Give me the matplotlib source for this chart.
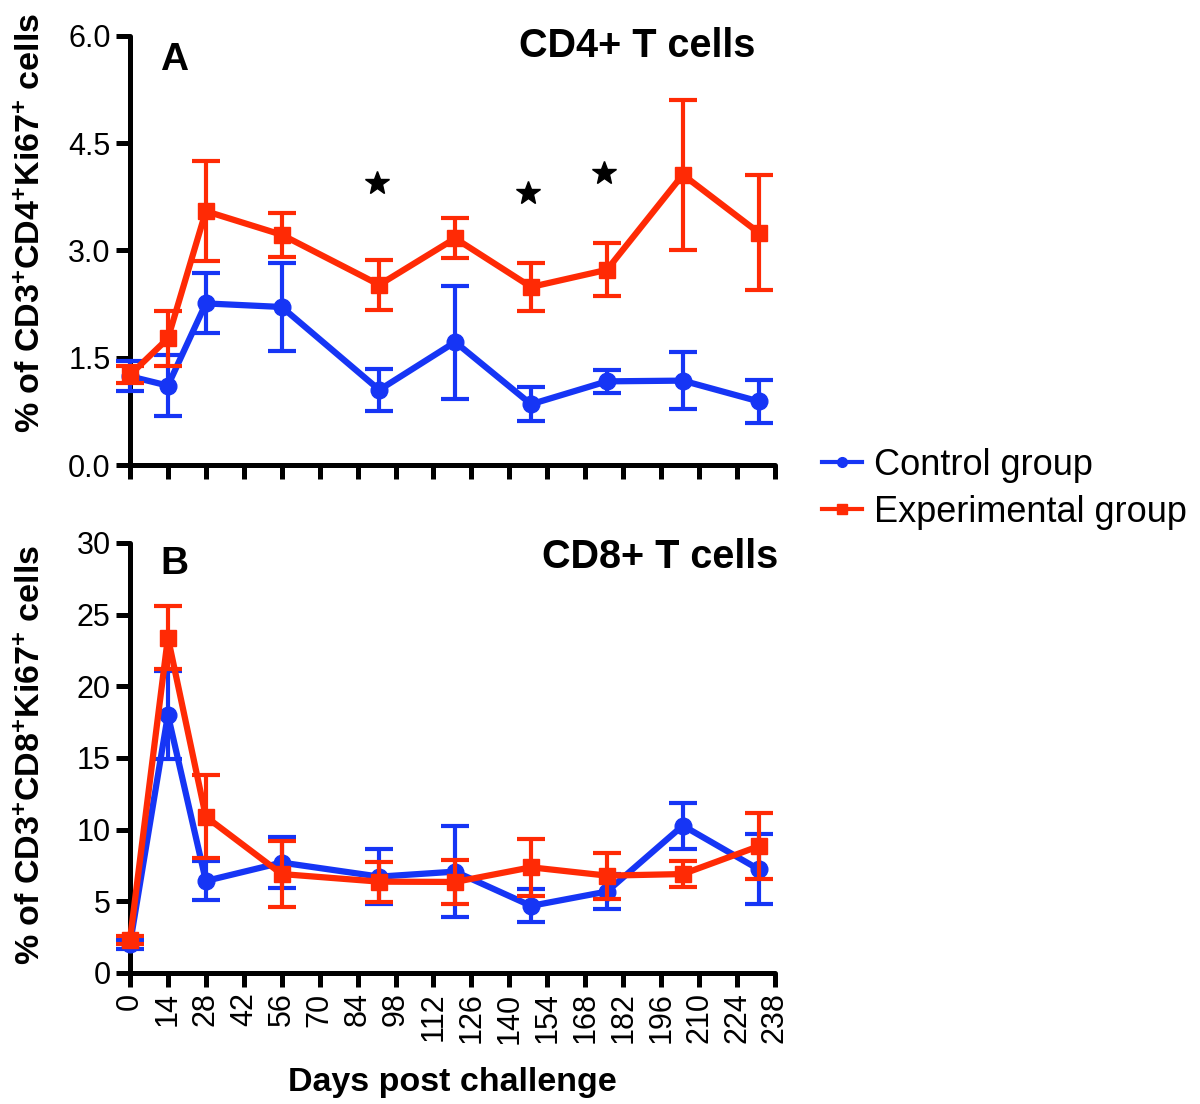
import matplotlib
matplotlib.use("Agg")
import matplotlib.pyplot as plt
from matplotlib.lines import Line2D

plt.rcParams['font.family'] = ['Liberation Sans', 'DejaVu Sans']
plt.rcParams['mathtext.fontset'] = 'custom'
plt.rcParams['mathtext.rm'] = 'Liberation Sans:bold'
plt.rcParams['mathtext.default'] = 'rm'

# data
days = [0, 14, 28, 56, 92, 120, 148, 176, 204, 232]
xticks = list(range(0, 239, 14))

cd4_ctrl = [1.24, 1.11, 2.26, 2.21, 1.05, 1.72, 0.85, 1.17, 1.18, 0.89]
cd4_ctrl_err = [0.21, 0.43, 0.42, 0.62, 0.29, 0.79, 0.24, 0.16, 0.40, 0.30]
cd4_exp = [1.26, 1.77, 3.55, 3.22, 2.52, 3.17, 2.49, 2.73, 4.06, 3.25]
cd4_exp_err = [0.12, 0.38, 0.70, 0.31, 0.35, 0.28, 0.33, 0.37, 1.05, 0.80]

cd8_ctrl = [2.0, 18.0, 6.42, 7.7, 6.72, 7.07, 4.68, 5.68, 10.28, 7.23]
cd8_ctrl_err = [0.3, 3.1, 1.36, 1.77, 1.9, 3.2, 1.15, 1.2, 1.6, 2.45]
cd8_exp = [2.3, 23.4, 10.9, 6.9, 6.37, 6.35, 7.37, 6.79, 6.9, 8.84]
cd8_exp_err = [0.3, 2.2, 2.9, 2.33, 1.4, 1.55, 2.0, 1.6, 0.9, 2.3]

star_days = [91, 147, 175]
star_y = [3.94, 3.80, 4.08]

blue = '#1635f5'
red = '#ff2a05'

fig = plt.figure(figsize=(12, 11.04), dpi=100)
ax1 = fig.add_axes([0.1083, 0.5788, 0.5375, 0.3886])
ax2 = fig.add_axes([0.1083, 0.1187, 0.5375, 0.3895])


def style(ax, ymax, ystep, fmt):
    for s in ['top', 'right']:
        ax.spines[s].set_visible(False)
    for s in ['left', 'bottom']:
        ax.spines[s].set_linewidth(3.6)
        ax.spines[s].set_capstyle('round')
    ax.set_xlim(0, 238)
    ax.set_ylim(0, ymax)
    ax.set_xticks(xticks)
    yt = [i * ystep for i in range(int(round(ymax / ystep)) + 1)]
    ax.set_yticks(yt)
    ax.set_yticklabels([fmt % v for v in yt])
    ax.tick_params(width=3.6, length=10, labelsize=22, pad=4)


def draw(ax, ctrl, ctrl_err, exp, exp_err):
    ax.errorbar(days, ctrl, yerr=ctrl_err, color=blue, lw=4.5, marker='o',
                ms=12, elinewidth=3, capsize=10, capthick=3, clip_on=False, zorder=3)
    ax.errorbar(days, exp, yerr=exp_err, color=red, lw=4.5, marker='s',
                ms=11.5, elinewidth=3, capsize=10, capthick=3, clip_on=False, zorder=4)


style(ax1, 6.0, 1.5, '%.1f')
style(ax2, 30, 5, '%d')
draw(ax1, cd4_ctrl, cd4_ctrl_err, cd4_exp, cd4_exp_err)
draw(ax2, cd8_ctrl, cd8_ctrl_err, cd8_exp, cd8_exp_err)
ax1.plot(star_days, star_y, ls='none', marker='*', ms=18, color='black')

ax1.set_xticklabels([])
ax2.set_xticklabels([str(t) for t in xticks], rotation=90, va='top', ha='center')

ax1.set_ylabel(r'% of CD3$^{+}$CD4$^{+}$Ki67$^{+}$ cells', fontsize=24.5, fontweight='bold')
ax1.yaxis.set_label_coords(-0.129, 0.564)
ax2.set_ylabel(r'% of CD3$^{+}$CD8$^{+}$Ki67$^{+}$ cells', fontsize=24.5, fontweight='bold')
ax2.yaxis.set_label_coords(-0.129, 0.506)
ax2.set_xlabel('Days post challenge', fontsize=24.5, fontweight='bold', labelpad=17)

ax1.text(0.047, 0.985, 'A', transform=ax1.transAxes, fontsize=28, fontweight='bold', va='top')
ax1.text(0.97, 1.02, 'CD4+ T cells', transform=ax1.transAxes, fontsize=28.5, fontweight='bold',
         va='top', ha='right')
ax2.text(0.047, 0.993, 'B', transform=ax2.transAxes, fontsize=28, fontweight='bold', va='top')
ax2.text(1.005, 1.012, 'CD8+ T cells', transform=ax2.transAxes, fontsize=28.5, fontweight='bold',
         va='top', ha='right')

handles = [Line2D([], [], color=blue, lw=3, marker='o', ms=7),
           Line2D([], [], color=red, lw=3, marker='s', ms=7)]
fig.legend(handles, ['Control group', 'Experimental group'], loc='center left',
           bbox_to_anchor=(0.685, 0.557), frameon=False, fontsize=26, borderpad=0,
           handlelength=1.1, handletextpad=0.35, labelspacing=0.33, borderaxespad=0)

fig.savefig('out.png', dpi=100)
